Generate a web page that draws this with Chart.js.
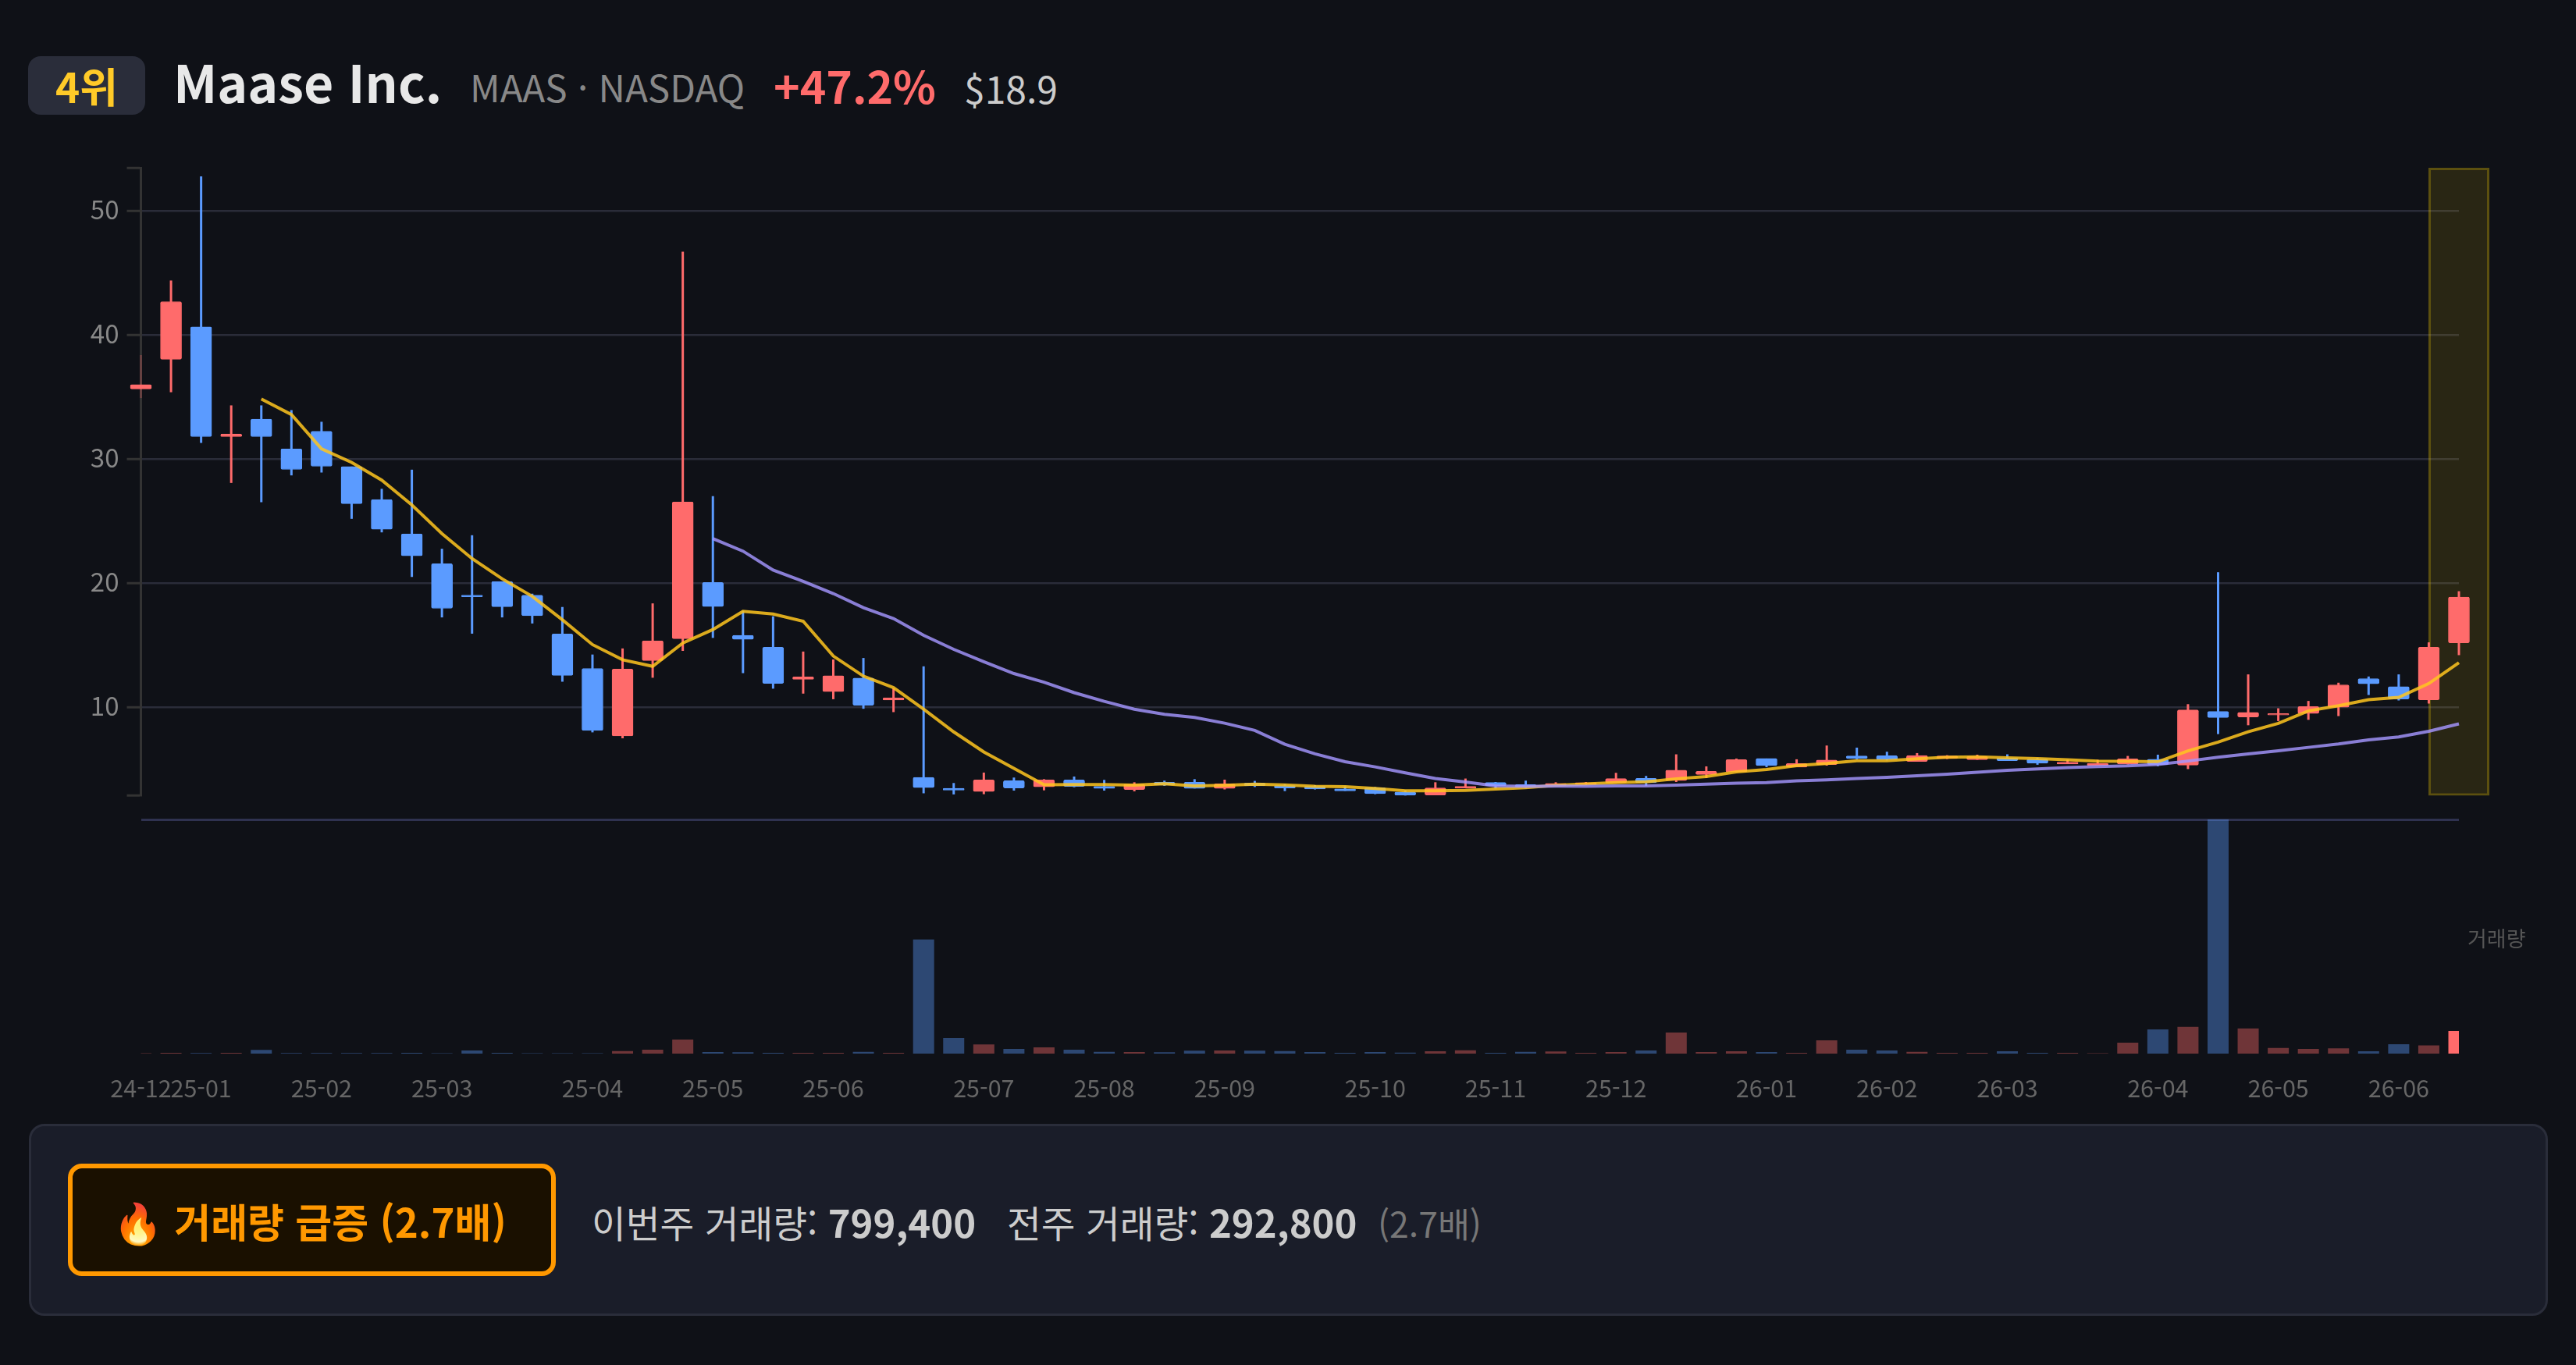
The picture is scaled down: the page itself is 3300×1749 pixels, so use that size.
<!DOCTYPE html>
<html lang="ko">
<head>
<meta charset="utf-8">
<title>Maase Inc.</title>
<script src="https://cdn.jsdelivr.net/npm/chart.js@4"></script>
<style>
  html, body { margin: 0; padding: 0; background: #0f1117; }
  body { position: relative; width: 3300px; height: 1749px; overflow: hidden;
         font-family: "Noto Sans CJK KR", "Noto Sans", sans-serif; }
  canvas { position: absolute; left: 0; }
  #priceChart { top: 0; }
  #volumeChart { top: 1030px; }
  .txt { position: absolute; white-space: nowrap; line-height: 1; }
  #rank { position: absolute; left: 36px; top: 72px; width: 150px; height: 75px; background: #2a2d3a;
          border-radius: 16px; color: #ffca28; font-size: 53px; font-weight: 700;
          text-align: center; line-height: 75px; }
  #name { left: 222px; top: 70px; font-size: 66px; font-weight: 700; color: #e8e8e8; }
  #ticker { left: 602px; top: 87px; font-size: 47.6px; color: #888; }
  #change { left: 991px; top: 80px; font-size: 57px; font-weight: 700; color: #ff6b6b; }
  #price { left: 1235px; top: 88px; font-size: 48px; color: #ccc; }
  #volLabel { left: 3161px; top: 1188px; font-size: 27px; color: #555; }
  #panel { position: absolute; left: 37px; top: 1440px; width: 3221px; height: 240px;
           background: #1a1d29; border: 3px solid #2a2d3a; border-radius: 20px; }
  #badge { position: absolute; left: 87px; top: 1491px; width: 625px; height: 144px; box-sizing: border-box;
           background: #1a1000; border: 6px solid #ff9800; border-radius: 18px; }
  #badgeText { left: 145px; top: 1539px; font-size: 51px; font-weight: 700; color: #ff9800; }
  #stats { left: 758px; top: 1540px; font-size: 47.6px; color: #ccc; }
  #stats b { font-weight: 700; font-size: 49px; }
  #stats span { color: #777; font-size: 44.5px; }
</style>
</head>
<body>
<div id="rank">4위</div>
<div class="txt" id="name">Maase Inc.</div>
<div class="txt" id="ticker">MAAS · NASDAQ</div>
<div class="txt" id="change">+47.2%</div>
<div class="txt" id="price">$18.9</div>
<canvas id="priceChart" width="3300" height="1040"></canvas>
<canvas id="volumeChart" width="3300" height="390"></canvas>
<div class="txt" id="volLabel">거래량</div>
<div id="panel"></div>
<div id="badge"></div>
<div class="txt" id="badgeText">🔥 거래량 급증 (2.7배)</div>
<div class="txt" id="stats">이번주 거래량: <b>799,400</b> &nbsp; 전주 거래량: <b>292,800</b> &nbsp;<span>(2.7배)</span></div>
<script>
// weekly candles, label is the month of each week
var weeks = ['24-12','24-12','25-01','25-01','25-01','25-01','25-02','25-02','25-02','25-02',
  '25-03','25-03','25-03','25-03','25-03','25-04','25-04','25-04','25-04','25-05','25-05','25-05','25-05',
  '25-06','25-06','25-06','25-06','25-06','25-07','25-07','25-07','25-07','25-08','25-08','25-08','25-08',
  '25-09','25-09','25-09','25-09','25-09','25-10','25-10','25-10','25-10','25-11','25-11','25-11','25-11',
  '25-12','25-12','25-12','25-12','25-12','26-01','26-01','26-01','26-01','26-02','26-02','26-02','26-02',
  '26-03','26-03','26-03','26-03','26-03','26-04','26-04','26-04','26-04','26-05','26-05','26-05','26-05',
  '26-06','26-06','26-06'];
var opens = [35.66,38.05,40.67,31.82,33.23,30.84,32.26,29.41,26.76,23.99,21.59,19.06,20.16,19.06,15.93,13.15,
  7.71,13.78,15.55,20.07,15.82,14.85,12.28,11.28,12.37,10.6,4.38,3.49,3.23,4.11,3.61,4.17,3.65,3.4,3.98,3.98,
  3.48,3.92,3.71,3.65,3.44,3.54,3.19,2.96,3.5,3.96,3.79,3.71,3.8,3.92,4.3,4.11,4.61,4.8,5.89,5.2,5.41,6.1,6.12,
  5.66,5.89,5.79,5.95,5.85,5.45,5.34,5.45,5.83,5.36,9.68,9.24,9.39,9.52,10.02,12.33,11.68,10.63,15.21];
var closes = [36.02,42.7,31.82,32.03,31.82,29.18,29.43,26.42,24.36,22.22,17.99,18.92,18.12,17.4,12.59,8.15,
  13.09,15.37,26.57,18.14,15.49,11.95,12.47,12.56,10.18,10.79,3.55,3.34,4.17,3.52,4.17,3.65,3.48,3.82,3.75,3.48,
  3.86,3.69,3.52,3.44,3.29,3.06,2.94,3.52,3.65,3.69,3.56,3.88,3.95,4.28,3.94,4.95,4.86,5.81,5.32,5.49,5.77,5.91,5.81,
  6.14,6.1,6.06,5.72,5.51,5.6,5.49,5.87,5.41,9.81,9.2,9.6,9.52,10.08,11.83,11.91,10.69,14.85,18.89];
var highs = [38.39,44.4,52.79,34.34,34.34,33.96,33.02,29.41,27.62,29.16,22.79,23.88,20.16,19.17,18.1,14.27,
  14.76,18.39,46.72,27.03,17.8,17.35,14.51,13.87,13.99,11.55,13.32,3.92,4.76,4.36,4.23,4.44,4.17,3.98,4.11,4.23,
  4.19,4.09,3.82,3.75,3.65,3.6,3.33,3.98,4.28,4.0,4.11,3.98,4.0,4.74,4.49,6.23,5.26,5.89,5.89,5.83,6.94,6.77,6.44,
  6.33,6.16,6.2,6.23,5.95,5.79,5.79,6.1,6.2,10.27,20.9,12.67,9.94,10.53,12.0,12.5,12.67,15.25,19.37];
var lows = [34.93,35.4,31.32,28.09,26.54,28.7,28.93,25.2,24.11,20.52,17.26,15.95,17.26,16.77,12.08,8.0,
  7.52,12.4,14.57,15.61,12.77,11.52,11.12,10.67,9.9,9.63,3.09,3.0,3.02,3.31,3.33,3.58,3.31,3.25,3.69,3.48,
  3.4,3.6,3.27,3.4,3.29,3.02,2.91,2.96,3.5,3.48,3.48,3.69,3.75,3.92,3.69,4.0,4.32,4.8,5.2,5.2,5.32,5.83,5.74,
  5.66,5.85,5.79,5.72,5.39,5.45,5.34,5.41,5.28,5.04,7.86,8.57,8.91,9.01,9.31,11.01,10.57,10.32,14.22];
var ma5 = [null,null,null,null,34.86,33.6,30.84,29.75,28.32,26.32,24.01,22.0,20.37,18.96,17.07,15.07,
  13.85,13.32,15.2,16.28,17.75,17.53,16.95,14.15,12.53,11.6,9.87,8.04,6.42,5.1,3.78,3.79,3.79,3.75,3.86,3.69,
  3.73,3.82,3.77,3.65,3.63,3.48,3.29,3.29,3.33,3.44,3.54,3.73,3.85,3.96,4.02,4.26,4.44,4.82,5.01,5.32,5.49,5.72,5.72,
  5.87,6.0,6.02,5.95,5.89,5.79,5.68,5.66,5.63,6.51,7.21,8.05,8.72,9.73,10.15,10.63,10.82,11.93,13.61];
var ma20 = [null,null,null,null,null,null,null,null,null,null,null,null,null,null,null,null,null,null,null,
  23.61,22.6,21.07,20.16,19.18,18.05,17.17,15.82,14.69,13.69,12.74,12.04,11.2,10.5,9.86,9.45,9.2,8.74,8.16,7.04,
  6.27,5.64,5.22,4.74,4.28,4.0,3.69,3.65,3.67,3.66,3.69,3.69,3.75,3.82,3.9,3.96,4.09,4.17,4.28,4.38,4.51,4.63,4.78,
  4.95,5.05,5.16,5.24,5.3,5.42,5.69,5.99,6.26,6.51,6.79,7.06,7.39,7.63,8.09,8.68];
var volumes = [14000,27600,19300,27600,129600,19300,19300,19300,19300,27600,13800,110300,27600,16500,13800,13800,
  91000,137800,496200,55100,46900,27600,27600,27600,63400,27600,4032900,551300,322500,165400,220500,137800,63400,
  55100,46900,102000,110300,102000,91000,55100,27600,55100,35800,82700,118500,27600,63400,74400,27600,55100,110300,
  744300,55100,82700,55100,27600,468600,137800,110300,63400,27600,27600,82700,27600,27600,16500,385900,854500,945500,
  8270000,890400,201200,165400,184700,82700,330800,292800,799400];
var priceTicks = [10, 20, 30, 40, 50];
var priceMin = 2.9, priceMax = 53.48, volumeMax = 8270000;

var RED = '#ff6b6b', BLUE = '#5b9bff', last = weeks.length - 1;
var tickFont = { family: '"Noto Sans CJK KR"', size: 33 };

function isUp(i) { return closes[i] >= opens[i]; }
function candleColor(i) { return isUp(i) ? RED : BLUE; }

new Chart(document.getElementById('priceChart'), {
  type: 'bar',
  data: {
    labels: weeks,
    datasets: [
      { // highlighted last week
        data: weeks.map(function (w, i) { return i === last ? [priceMin, priceMax] : null; }),
        barThickness: 78, backgroundColor: 'rgba(255,214,0,0.11)', borderColor: 'rgba(255,214,0,0.32)',
        borderWidth: 3, borderSkipped: false, inflateAmount: 0, order: 5
      },
      { // wicks
        data: weeks.map(function (w, i) { return [lows[i], highs[i]]; }),
        barThickness: 3, inflateAmount: 0, order: 4,
        backgroundColor: function (c) { return c.dataIndex === 0 ? 'rgba(255,107,107,0.25)' : candleColor(c.dataIndex); }
      },
      { // bodies
        data: weeks.map(function (w, i) { return [opens[i], closes[i]]; }),
        barThickness: 27, order: 3, borderWidth: 1, borderSkipped: false, borderRadius: 2,
        backgroundColor: function (c) { return candleColor(c.dataIndex); },
        borderColor: function (c) { return candleColor(c.dataIndex); }
      },
      { type: 'line', data: ma5, borderColor: 'rgba(255,198,30,0.85)', borderWidth: 4, pointRadius: 0, tension: 0, order: 2 },
      { type: 'line', data: ma20, borderColor: 'rgba(165,150,255,0.82)', borderWidth: 4, pointRadius: 0, tension: 0, order: 1 }
    ]
  },
  options: {
    responsive: false, animation: false, devicePixelRatio: 1,
    layout: { padding: { top: 215, right: 150, bottom: 20.5, left: 0 } },
    datasets: { bar: { grouped: false, clip: false }, line: { clip: false, spanGaps: false } },
    plugins: { legend: { display: false }, tooltip: { enabled: false } },
    scales: {
      x: { display: false, offset: false, grid: { offset: false } },
      y: {
        min: priceMin, max: priceMax,
        // tick label margins would shrink the plot otherwise
        afterFit: function (s) { s.width = 180.5; s.paddingTop = 0; s.paddingBottom = 0; },
        afterBuildTicks: function (s) {
          s.ticks = [priceMin].concat(priceTicks, priceMax).map(function (v) { return { value: v }; });
        },
        border: { color: '#333', width: 3 },
        grid: {
          lineWidth: 2.5, tickLength: 18, tickColor: '#333', tickWidth: 3,
          color: function (c) { return priceTicks.indexOf(c.tick.value) < 0 ? 'transparent' : '#2a2c39'; }
        },
        ticks: {
          color: '#888', font: tickFont, padding: 10, labelOffset: -2, autoSkip: false,
          callback: function (v) { return priceTicks.indexOf(v) < 0 ? '' : v; }
        }
      }
    }
  }
});

new Chart(document.getElementById('volumeChart'), {
  type: 'bar',
  data: {
    labels: weeks,
    datasets: [{
      data: volumes,
      barThickness: 27, inflateAmount: 0, clip: 0,
      backgroundColor: function (c) {
        var i = c.dataIndex;
        if (i === last) return RED;
        return isUp(i) ? 'rgba(255,107,107,0.4)' : 'rgba(91,155,255,0.4)';
      }
    }]
  },
  options: {
    responsive: false, animation: false, devicePixelRatio: 1,
    layout: { padding: { top: 20, right: 150, bottom: 0, left: 0 } },
    plugins: { legend: { display: false }, tooltip: { enabled: false } },
    scales: {
      x: {
        offset: false,
        afterFit: function (s) { s.height = 70; },
        grid: { display: false, offset: false },
        border: { display: false },
        ticks: {
          color: '#666', font: { family: '"Noto Sans CJK KR"', size: 30.5 }, padding: 18,
          autoSkip: false, maxRotation: 0, minRotation: 0,
          callback: function (v, i) { return i > 0 && weeks[i] === weeks[i - 1] ? '' : weeks[i]; }
        }
      },
      y: {
        min: 0, max: volumeMax,
        afterFit: function (s) { s.width = 180.5; },
        afterBuildTicks: function (s) { s.ticks = [{ value: volumeMax }]; },
        border: { display: false },
        grid: { color: '#2f3250', lineWidth: 3, drawTicks: false },
        ticks: { display: false }
      }
    }
  }
});
</script>
</body>
</html>
